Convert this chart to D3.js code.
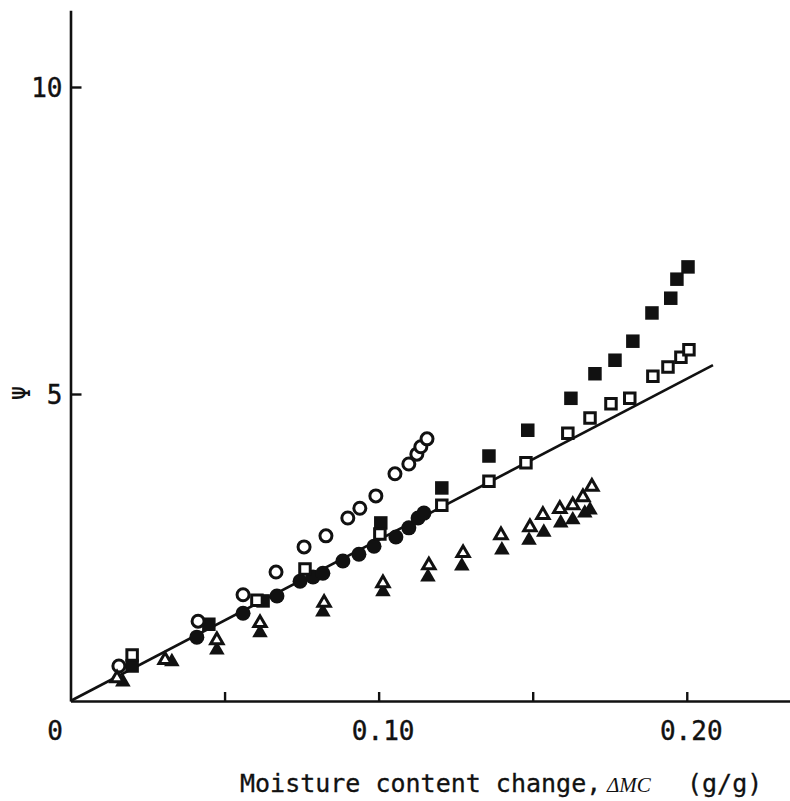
<!DOCTYPE html>
<html>
<head>
<meta charset="utf-8">
<script src="https://cdn.jsdelivr.net/npm/d3@7"></script>
<style>
  html, body { margin: 0; padding: 0; background: #fff; }
  #chart { width: 790px; height: 801px; }
</style>
</head>
<body>
<div id="chart"></div>
<script>
// Values: moisture content change (g/g) vs psi
const openCircleMC  = [0.0157, 0.0414, 0.0560, 0.0667, 0.0758, 0.0829, 0.0900, 0.0939, 0.0991, 0.1053, 0.1098, 0.1124, 0.1137, 0.1157];
const openCirclePsi = [0.57, 1.30, 1.73, 2.10, 2.51, 2.69, 2.98, 3.14, 3.34, 3.70, 3.86, 4.02, 4.14, 4.27];

const fillCircleMC  = [0.0410, 0.0560, 0.0670, 0.0745, 0.0787, 0.0819, 0.0884, 0.0936, 0.0985, 0.1056, 0.1098, 0.1128, 0.1147];
const fillCirclePsi = [1.04, 1.43, 1.71, 1.95, 2.02, 2.08, 2.28, 2.39, 2.52, 2.67, 2.82, 2.98, 3.06];

const openSquareMC  = [0.0200, 0.0605, 0.0761, 0.1004, 0.1205, 0.1358, 0.1478, 0.1614, 0.1686, 0.1754, 0.1815, 0.1890, 0.1939, 0.1981, 0.2007];
const openSquarePsi = [0.75, 1.64, 2.15, 2.72, 3.19, 3.58, 3.88, 4.36, 4.61, 4.84, 4.93, 5.29, 5.44, 5.60, 5.72];

const fillSquareMC  = [0.0200, 0.0449, 0.0625, 0.1007, 0.1205, 0.1358, 0.1484, 0.1624, 0.1702, 0.1767, 0.1825, 0.1887, 0.1948, 0.1968, 0.2004];
const fillSquarePsi = [0.57, 1.25, 1.63, 2.90, 3.47, 3.99, 4.41, 4.93, 5.33, 5.55, 5.86, 6.32, 6.56, 6.87, 7.07];

const openTriMC  = [0.0151, 0.0307, 0.0475, 0.0615, 0.0823, 0.1014, 0.1163, 0.1274, 0.1397, 0.1491, 0.1533, 0.1588, 0.1630, 0.1663, 0.1692];
const openTriPsi = [0.37, 0.67, 0.99, 1.27, 1.60, 1.92, 2.21, 2.41, 2.70, 2.83, 3.03, 3.13, 3.19, 3.32, 3.49];

const fillTriMC  = [0.0170, 0.0329, 0.0475, 0.0615, 0.0819, 0.1014, 0.1160, 0.1270, 0.1400, 0.1488, 0.1536, 0.1591, 0.1630, 0.1669, 0.1686];
const fillTriPsi = [0.31, 0.64, 0.83, 1.11, 1.45, 1.78, 2.02, 2.20, 2.46, 2.62, 2.75, 2.90, 2.95, 3.06, 3.11];

// straight line through the origin
const fitLineMC  = [0, 0.2085];
const fitLinePsi = [0, 5.47];

const xTicks = [0.05, 0.10, 0.15, 0.20];
const xTickLabels = ["", "0.10", "", "0.20"];
const yTicks = [5, 10];

const ink = "#111";
const mono = "'DejaVu Sans Mono', monospace";

const width = 790, height = 801;

const svg = d3.select("#chart")
  .append("svg")
  .attr("width", width)
  .attr("height", height)
  .attr("viewBox", `0 0 ${width} ${height}`);

// scales: axis lines run to the right edge and near the top
const x = d3.scaleLinear().domain([0, 0.2335]).range([70.5, 790]);
const y = d3.scaleLinear().domain([0, 11.25]).range([701, 10.25]);

// x axis, ticks pointing inward
const xAxis = svg.append("g")
  .attr("transform", `translate(0,${y(0)})`)
  .call(d3.axisBottom(x)
    .tickValues(xTicks)
    .tickSizeInner(-9)
    .tickSizeOuter(0)
    .tickFormat((d, i) => xTickLabels[i]));

// y axis, ticks pointing inward
const yAxis = svg.append("g")
  .attr("transform", `translate(${x(0)},0)`)
  .call(d3.axisLeft(y)
    .tickValues(yTicks)
    .tickSizeInner(-11)
    .tickSizeOuter(0)
    .tickFormat(d3.format("d")));

[xAxis, yAxis].forEach(g => {
  g.select(".domain").attr("stroke", ink).attr("stroke-width", 2.6);
  g.selectAll(".tick line").attr("stroke", ink).attr("stroke-width", 2.4);
  g.selectAll(".tick text")
    .attr("fill", ink)
    .attr("stroke", ink)
    .attr("stroke-width", 0.4)
    .style("font-family", mono)
    .style("font-size", "26px");
});

xAxis.selectAll(".tick text").attr("y", 39).attr("dy", 0).attr("dx", 4);
yAxis.selectAll(".tick text").attr("x", -8).attr("dy", "0.36em");

// the lone "0" at the origin
svg.append("text")
  .attr("x", 55)
  .attr("y", 740)
  .attr("text-anchor", "middle")
  .attr("fill", ink)
  .attr("stroke", ink)
  .attr("stroke-width", 0.4)
  .style("font-family", mono)
  .style("font-size", "26px")
  .text("0");

// psi label, turned on its side
svg.append("text")
  .attr("transform", "translate(30,393) rotate(-90)")
  .attr("text-anchor", "middle")
  .attr("fill", ink)
  .style("font-family", mono)
  .style("font-size", "24px")
  .text("Ψ");

// x axis title
svg.append("text")
  .attr("x", 240)
  .attr("y", 792)
  .attr("fill", ink)
  .attr("stroke", ink)
  .attr("stroke-width", 0.3)
  .style("font-family", mono)
  .style("font-size", "25px")
  .text("Moisture content change,");

svg.append("text")
  .attr("x", 607)
  .attr("y", 792)
  .attr("fill", ink)
  .style("font-family", "'Liberation Serif', serif")
  .style("font-style", "italic")
  .style("font-size", "21px")
  .text("ΔMC");

svg.append("text")
  .attr("x", 687)
  .attr("y", 792)
  .attr("fill", ink)
  .attr("stroke", ink)
  .attr("stroke-width", 0.3)
  .style("font-family", mono)
  .style("font-size", "25px")
  .text("(g/g)");

// fitted line
const line = d3.line().x(d => x(d[0])).y(d => y(d[1]));
svg.append("path")
  .datum(d3.zip(fitLineMC, fitLinePsi))
  .attr("d", line)
  .attr("fill", "none")
  .attr("stroke", ink)
  .attr("stroke-width", 2.6);

// marker series: filled ones first, open ones on top
const series = [
  { mc: fillCircleMC, psi: fillCirclePsi, type: d3.symbolCircle,   size: Math.PI * 7.5 * 7.5, open: false },
  { mc: fillSquareMC, psi: fillSquarePsi, type: d3.symbolSquare,   size: 13.5 * 13.5,         open: false },
  { mc: fillTriMC,    psi: fillTriPsi,    type: d3.symbolTriangle, size: 105,                 open: false },
  { mc: openCircleMC, psi: openCirclePsi, type: d3.symbolCircle,   size: Math.PI * 6 * 6,     open: true },
  { mc: openSquareMC, psi: openSquarePsi, type: d3.symbolSquare,   size: 10.5 * 10.5,         open: true },
  { mc: openTriMC,    psi: openTriPsi,    type: d3.symbolTriangle, size: 66,                  open: true }
];

series.forEach(s => {
  const sym = d3.symbol().type(s.type).size(s.size);
  svg.append("g")
    .selectAll("path")
    .data(d3.zip(s.mc, s.psi))
    .enter()
    .append("path")
    .attr("transform", d => `translate(${x(d[0])},${y(d[1])})`)
    .attr("d", sym)
    .attr("fill", s.open ? "#fff" : ink)
    .attr("stroke", ink)
    .attr("stroke-width", s.open ? 3 : 0);
});
</script>
</body>
</html>
